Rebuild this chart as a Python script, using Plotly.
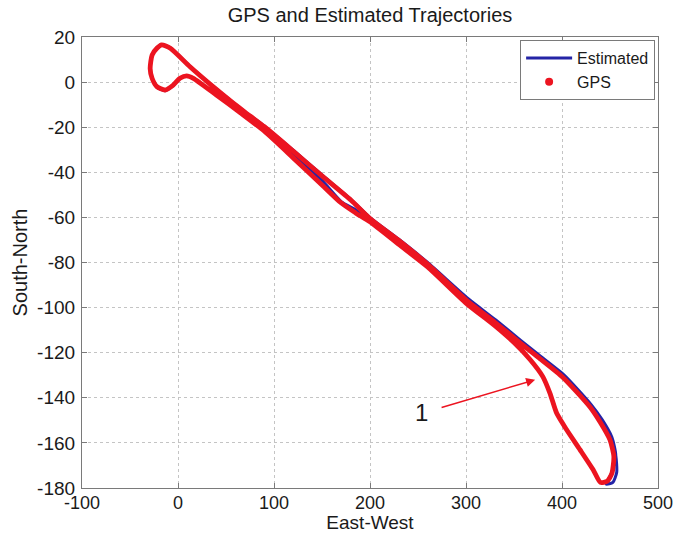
import plotly.graph_objects as go

# GPS trajectory (East-West, South-North), one closed loop
gps_x = [9, 16, 40, 65, 90, 120, 150, 170, 185, 200, 230, 260, 300, 330, 350, 366.7, 380,
         387.5, 394.5, 405, 418.7, 432.6, 440, 447, 452, 454, 450, 440, 429, 401, 375, 356,
         330, 300, 260, 230, 200, 180, 150, 120, 90, 70, 57.6, 36.5, 12.5, -8, -17, -22, -27,
         -29, -27, -22, -13.5, -5, 2, 9]
gps_y = [2.8, 1.7, -5.7, -13.6, -21.8, -33.6, -45.6, -53.6, -58, -62, -72, -82, -98, -108,
         -115.5, -123, -130.6, -138, -146.9, -154.3, -163, -172, -177.5, -177, -173.5, -166,
         -158.7, -151, -144, -131, -122, -115.5, -106.5, -96.5, -80.7, -70.2, -60.5, -52.3,
         -41.6, -30.6, -19.8, -13.4, -9.3, -2, 6.8, 15, 16.5, 15, 12, 6, 1.7, -2, -3.5, -1.3,
         1.7, 2.8]

# Estimated trajectory
est_x = [9, 16, 40, 65, 90, 120, 150, 170, 185, 200, 230, 260, 300, 330, 356, 376, 402, 430,
         441, 451, 456, 457, 453, 446, 451, 456, 452, 442, 430, 402, 376, 357, 331, 301, 260,
         230, 200, 180, 150, 120, 90, 70, 57.6, 36.5, 12.5, -8, -17, -22, -27, -29, -27, -22,
         -13.5, -5, 2, 9]
est_y = [2.8, 1.7, -5.7, -13.6, -20.8, -32.1, -43.6, -53, -56.6, -61.2, -71.1, -81.3, -96.8,
         -106.5, -115, -121.5, -130.3, -143.2, -150.3, -158, -165.5, -173, -177.5, -178.3,
         -174, -165.5, -157.5, -149.8, -142.8, -129.8, -121, -114.5, -105.5, -95.6, -80,
         -69.7, -60.1, -52, -41.2, -30.2, -19.5, -13.2, -9.1, -1.8, 7, 15.2, 16.7, 15.2, 12,
         6, 1.7, -2.2, -3.8, -1.5, 1.6, 2.8]

x_ticks = [-100, 0, 100, 200, 300, 400, 500]
y_ticks = [20, 0, -20, -40, -60, -80, -100, -120, -140, -160, -180]

BLUE = "#2424a6"
RED = "#ec1420"
TXT = "#1a1a1a"
FONT = "Liberation Sans, Arial, sans-serif"

fig = go.Figure()
fig.add_trace(go.Scatter(x=est_x, y=est_y, mode="lines", name="Estimated",
                         line=dict(color=BLUE, width=3, shape="spline", smoothing=0.6),
                         showlegend=True))
fig.add_trace(go.Scatter(x=gps_x, y=gps_y, mode="lines", name="GPS",
                         line=dict(color=RED, width=4.8, shape="spline", smoothing=0.6),
                         showlegend=False))
fig.add_trace(go.Scatter(x=[None], y=[None], mode="markers", name="GPS",
                         marker=dict(color=RED, size=8), showlegend=True))

fig.add_annotation(x=372, y=-132, ax=273, ay=-144.5, xref="x", yref="y", axref="x", ayref="y",
                   text="", showarrow=True, arrowhead=2, arrowsize=1.2, arrowwidth=1.5,
                   arrowcolor=RED)
fig.add_annotation(x=254, y=-146.5, xref="x", yref="y", text="1", showarrow=False,
                   font=dict(family=FONT, size=24, color=TXT))

axis_common = dict(showgrid=True, gridcolor="#c4c4c4", griddash="dot", gridwidth=1,
                   showline=True, linecolor="#7a7a7a", linewidth=1.2, mirror="ticks",
                   ticks="inside", ticklen=5, tickcolor="#7a7a7a", zeroline=False,
                   automargin=False)

fig.update_xaxes(range=[-100, 500], tickvals=x_ticks, ticktext=[str(v) for v in x_ticks],
                 tickfont=dict(family=FONT, size=18, color=TXT), ticklabelstandoff=-2,
                 title=dict(text="East-West", font=dict(family=FONT, size=19, color=TXT),
                            standoff=0), **axis_common)
fig.update_yaxes(range=[-180, 20], tickvals=y_ticks, ticktext=[str(v) for v in y_ticks],
                 tickfont=dict(family=FONT, size=19, color=TXT), ticklabelstandoff=2,
                 title=dict(text="South-North", font=dict(family=FONT, size=20, color=TXT),
                            standoff=4), **axis_common)

fig.update_layout(
    width=687, height=533,
    margin=dict(l=82, r=29, t=37, b=45),
    paper_bgcolor="white", plot_bgcolor="white",
    title=dict(text="GPS and Estimated Trajectories", x=0.5, xref="paper",
               y=1 - 15 / 533, yref="container", yanchor="middle",
               font=dict(family=FONT, size=20, color=TXT)),
    legend=dict(x=0.995, y=0.993, xanchor="right", yanchor="top",
                bordercolor="#7a7a7a", borderwidth=1, bgcolor="white",
                font=dict(family=FONT, size=16, color=TXT),
                itemwidth=46, tracegroupgap=0),
    showlegend=True,
)

fig.write_html("out.html", config={"displayModeBar": False},
               post_script="document.body.style.margin='0';document.body.style.overflow='hidden';")
